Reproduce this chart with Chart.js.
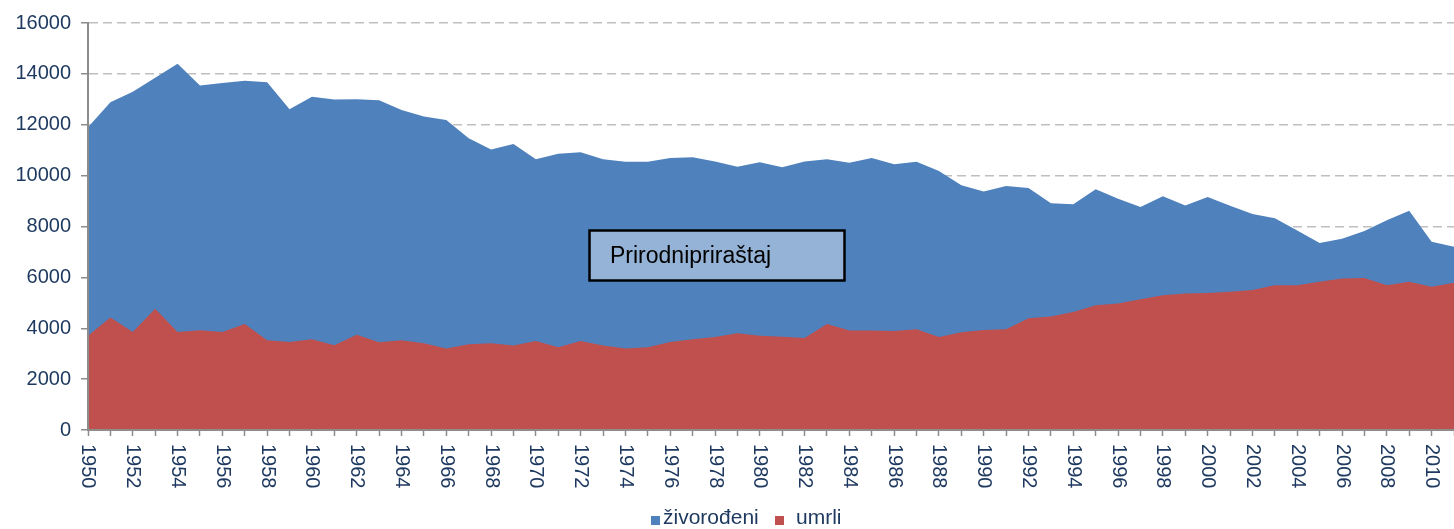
<!DOCTYPE html>
<html>
<head>
<meta charset="utf-8">
<script src="https://cdn.jsdelivr.net/npm/chart.js@4.4.1/dist/chart.umd.min.js"></script>
<style>
  html, body { margin: 0; padding: 0; background: #fff; }
  canvas { display: block; }
</style>
</head>
<body>
<canvas id="myChart" width="1454" height="529"></canvas>
<script>
const years = [
  '1950','1951','1952','1953','1954','1955','1956','1957','1958','1959',
  '1960','1961','1962','1963','1964','1965','1966','1967','1968','1969',
  '1970','1971','1972','1973','1974','1975','1976','1977','1978','1979',
  '1980','1981','1982','1983','1984','1985','1986','1987','1988','1989',
  '1990','1991','1992','1993','1994','1995','1996','1997','1998','1999',
  '2000','2001','2002','2003','2004','2005','2006','2007','2008','2009',
  '2010','2011'
];
// only every second year gets a label
const tickYears = [
  '1950','1952','1954','1956','1958','1960','1962','1964','1966','1968',
  '1970','1972','1974','1976','1978','1980','1982','1984','1986','1988',
  '1990','1992','1994','1996','1998','2000','2002','2004','2006','2008','2010'
];
const births = [
  11900, 12880, 13300, 13850, 14400, 13540, 13640, 13730, 13670, 12610,
  13100, 12990, 13000, 12960, 12580, 12320, 12190, 11470, 11030, 11240,
  10640, 10860, 10920, 10640, 10550, 10550, 10690, 10720, 10560, 10350,
  10530, 10330, 10560, 10640, 10510, 10690, 10450, 10550, 10180, 9620,
  9380, 9590, 9510, 8910, 8870, 9460, 9090, 8770, 9190, 8830,
  9160, 8820, 8490, 8320, 7840, 7350, 7520, 7820, 8250, 8620,
  7400, 7200
];
const deaths = [
  3710, 4420, 3850, 4770, 3850, 3920, 3850, 4170, 3530, 3460,
  3570, 3330, 3740, 3450, 3530, 3410, 3200, 3370, 3410, 3320,
  3500, 3250, 3500, 3320, 3200, 3250, 3460, 3570, 3660, 3800,
  3710, 3670, 3620, 4170, 3910, 3910, 3890, 3960, 3660, 3840,
  3930, 3960, 4390, 4460, 4640, 4900, 4970, 5140, 5300, 5370,
  5390, 5430, 5500, 5690, 5690, 5830, 5960, 5980, 5690, 5830,
  5630, 5790
];
const yMax = 16000;
const yStep = 2000;
const seriesNames = ['živorođeni', 'umrli'];
const noteText = 'Prirodnipriraštaj';

const blue = '#4F81BD';
const red = '#C0504D';
const axisColor = '#8C8C8C';
const labelColor = '#1F3A60';
const fontFamily = '"Liberation Sans", Arial, sans-serif';

Chart.defaults.font.family = fontFamily;

// year labels read top to bottom, the note box and the legend
const extras = {
  id: 'extras',
  afterDraw(chart) {
    const ctx = chart.ctx;
    const xs = chart.scales.x;
    const area = chart.chartArea;
    ctx.save();

    // text box in the middle of the plot
    ctx.fillStyle = '#95B3D7';
    ctx.fillRect(589, 230, 256, 51);
    ctx.lineWidth = 2.5;
    ctx.strokeStyle = '#000';
    ctx.strokeRect(589.5, 230.5, 255, 50);
    ctx.fillStyle = '#000';
    ctx.font = '23px ' + fontFamily;
    ctx.textAlign = 'left';
    ctx.textBaseline = 'alphabetic';
    ctx.fillText(noteText, 610, 263);

    // x labels
    ctx.font = '20px ' + fontFamily;
    ctx.fillStyle = labelColor;
    ctx.textAlign = 'left';
    ctx.textBaseline = 'middle';
    xs.ticks.forEach((t, i) => {
      const label = years[i];
      if (!tickYears.includes(label)) return;
      const px = xs.getPixelForTick(i);
      ctx.save();
      ctx.translate(px, area.bottom + 14);
      ctx.rotate(Math.PI / 2);
      ctx.fillText(label, 0, 0);
      ctx.restore();
    });

    // legend
    const items = chart.data.datasets;
    const boxX = [651, 775];
    const textX = [663, 796];
    ctx.font = '21px ' + fontFamily;
    ctx.textBaseline = 'alphabetic';
    items.forEach((ds, i) => {
      ctx.fillStyle = ds.backgroundColor;
      ctx.fillRect(boxX[i], 516, 9, 9);
      ctx.fillStyle = labelColor;
      ctx.fillText(ds.label, textX[i], 524);
    });

    ctx.restore();
  }
};

const ctx = document.getElementById('myChart');

const myChart = new Chart(ctx, {
  type: 'line',
  data: {
    labels: years,
    datasets: [
      {
        label: seriesNames[0],
        data: births,
        backgroundColor: blue,
        borderColor: 'transparent',
        borderWidth: 0,
        pointRadius: 0,
        fill: 'origin',
        tension: 0,
        order: 1
      },
      {
        label: seriesNames[1],
        data: deaths,
        backgroundColor: red,
        borderColor: 'transparent',
        borderWidth: 0,
        pointRadius: 0,
        fill: 'origin',
        tension: 0,
        order: 0
      }
    ]
  },
  options: {
    responsive: false,
    animation: false,
    layout: { padding: { top: 23, right: 0, bottom: 0, left: 0 } },
    plugins: {
      legend: { display: false },
      tooltip: { enabled: false }
    },
    scales: {
      x: {
        type: 'category',
        offset: false,
        ticks: { display: false },
        grid: {
          display: true,
          drawOnChartArea: false,
          drawTicks: true,
          tickLength: 6,
          tickColor: axisColor,
          tickWidth: 1.5
        },
        border: { display: true, color: axisColor, width: 2, z: 1 },
        afterFit(scale) { scale.height = 99; }
      },
      y: {
        min: 0,
        max: yMax,
        ticks: {
          stepSize: yStep,
          padding: 10,
          color: labelColor,
          font: { size: 20 },
          callback: (v) => String(v)
        },
        grid: {
          color: '#BFBFBF',
          lineWidth: 1.5,
          tickLength: 7,
          tickColor: axisColor,
          tickWidth: 1.5,
          tickBorderDash: []
        },
        border: { display: true, color: axisColor, width: 2, dash: [9, 5], z: 1 },
        afterFit(scale) { scale.width = 88; }
      }
    }
  },
  plugins: [extras]
});
</script>
</body>
</html>
